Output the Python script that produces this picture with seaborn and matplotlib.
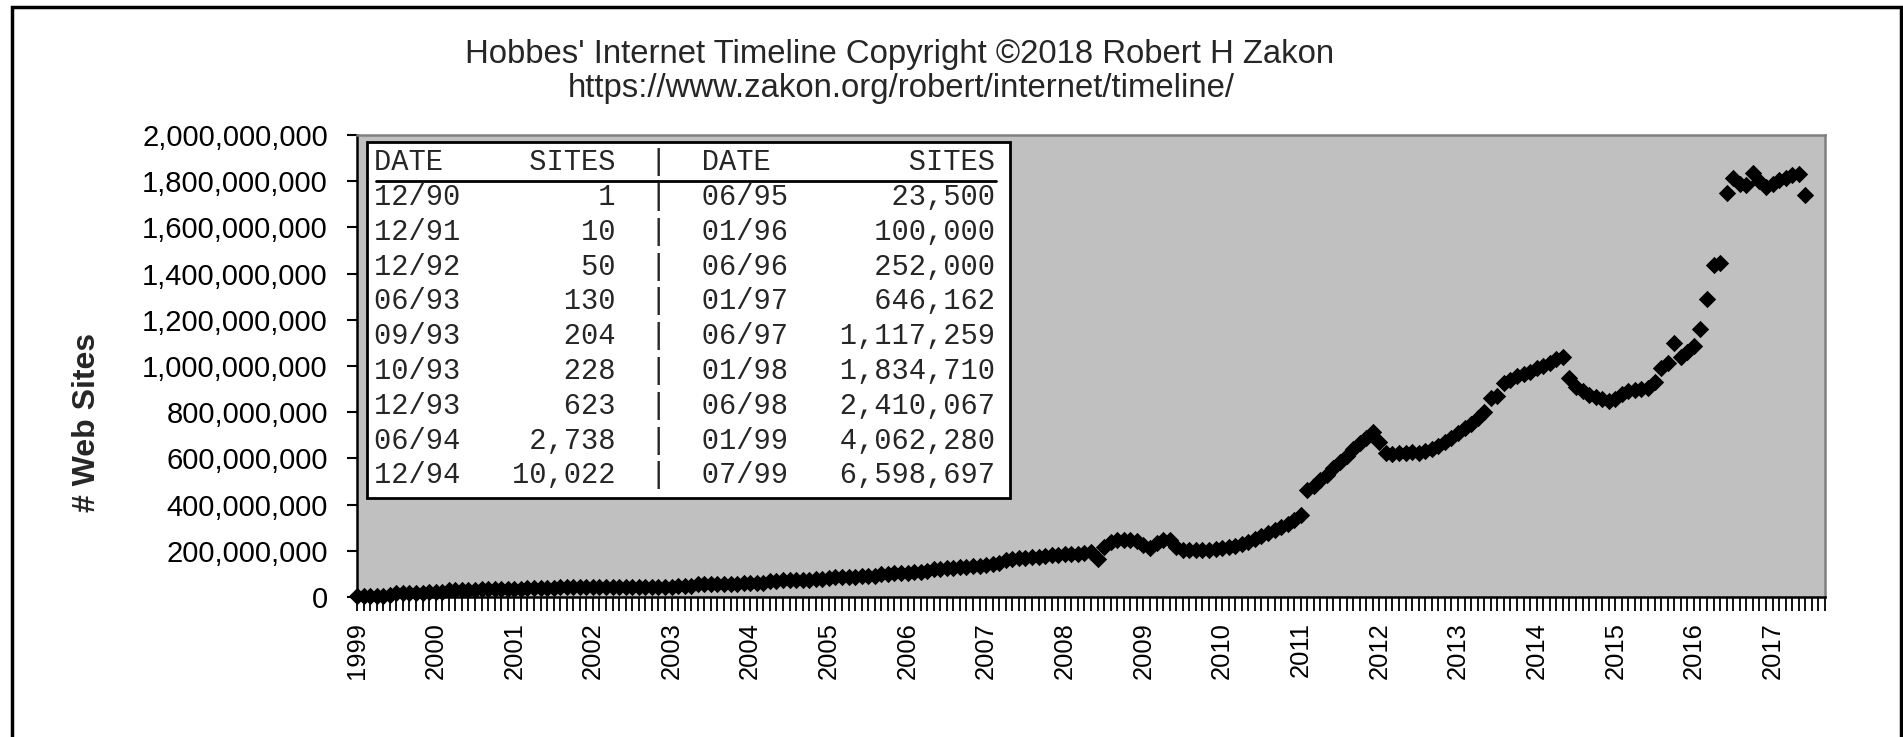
import numpy as np
import pandas as pd
import matplotlib
matplotlib.use('Agg')
import matplotlib.pyplot as plt
import seaborn as sns
from matplotlib.patches import Rectangle
from matplotlib.lines import Line2D
from matplotlib.ticker import FuncFormatter

# monthly web site counts (millions), Jan 1999 onwards
sites_millions = [
    4, 5, 5, 6, 6, 7,
    17, 18, 18, 19, 19, 20, 20, 21,
    30, 31, 31, 32, 32, 33, 33, 34, 34, 35, 35, 36,
    40, 40, 41, 41, 41, 42, 42, 42, 42, 43, 43, 43, 43, 43, 44, 44, 44, 44, 44, 45, 45, 45, 45, 46, 46, 46,
    55, 56, 56, 57, 57, 58, 58, 59, 60, 60, 61,
    70, 71, 72, 72, 73, 74, 75, 76, 77,
    84, 85, 86, 87, 88, 89, 90, 92,
    100, 101, 103, 104, 106, 108, 110, 112,
    120, 122, 124, 126, 128, 130, 133, 136, 140, 144, 148,
    160, 165, 168, 170, 172, 175, 178, 180, 182, 184, 186, 188, 190, 195,
    165, 215, 240, 245, 247, 246, 244,
    225, 212, 235, 247, 245, 215, 205, 203, 203, 204, 205, 207, 210,
    216, 222, 230, 240, 250, 262, 275, 288, 302, 318, 335, 355,
    463, 480, 505, 530, 558, 585, 612, 640, 665, 690,
    714, 670, 623, 620, 622, 625, 627, 625, 630,
    640, 655, 670, 690, 710, 730, 750, 775, 800,
    860, 870,
    925, 940, 955, 965, 975, 990, 1000, 1015, 1030,
    1040, 950,
    910, 890, 875, 865, 855, 850, 858,
    880, 890, 895, 900, 905, 930,
    990, 1015, 1100, 1040, 1060, 1085, 1160, 1290, 1437, 1445,
    1750, 1815, 1790, 1785, 1835, 1800, 1775, 1790, 1805, 1815, 1825, 1830, 1740,
]
years = list(range(1999, 2018))
n_categories = 225

# early history table
left_dates = ['12/90', '12/91', '12/92', '06/93', '09/93', '10/93', '12/93', '06/94', '12/94']
left_sites = [1, 10, 50, 130, 204, 228, 623, 2738, 10022]
right_dates = ['06/95', '01/96', '06/96', '01/97', '06/97', '01/98', '06/98', '01/99', '07/99']
right_sites = [23500, 100000, 252000, 646162, 1117259, 1834710, 2410067, 4062280, 6598697]

title_lines = ["Hobbes' Internet Timeline Copyright \u00a92018 Robert H Zakon",
               "https://www.zakon.org/robert/internet/timeline/"]

sns.set_style('white')
plt.rcParams['font.family'] = ['Liberation Sans', 'DejaVu Sans']

W, H = 1903, 737
df = pd.DataFrame({'month': np.arange(len(sites_millions)),
                   'sites': np.array(sites_millions, dtype=float) * 1e6})

fig = plt.figure(figsize=(W / 100, H / 100), dpi=100)
ax = fig.add_axes([357 / W, 1 - 597 / H, (1825 - 357) / W, (597 - 135) / H])
ax.set_facecolor('#c0c0c0')

sns.scatterplot(data=df, x='month', y='sites', marker='D', color='black',
                s=78, linewidth=0, ax=ax, zorder=3, clip_on=False, legend=False)

ax.set_xlim(0, n_categories - 1)
ax.set_ylim(0, 2e9)
ax.set_xlabel('')
ax.set_ylabel('')

xt = list(range(n_categories))
xl = [str(years[i // 12]) if i % 12 == 0 and i // 12 < len(years) else '' for i in xt]
ax.set_xticks(xt)
ax.set_xticklabels(xl, rotation=90, fontsize=18.4)
ax.set_yticks(np.arange(0, 2e9 + 1, 2e8))
ax.yaxis.set_major_formatter(FuncFormatter(lambda v, p: f'{v:,.0f}'))
ax.tick_params(axis='x', bottom=True, length=10, width=1.3, direction='out', pad=8, colors='black')
ax.tick_params(axis='y', left=True, length=7, width=1.5, direction='out', pad=14,
               labelsize=21, colors='black')

for side in ['left', 'bottom']:
    ax.spines[side].set_color('black')
    ax.spines[side].set_linewidth(1.8)
for side in ['top', 'right']:
    ax.spines[side].set_color('#808080')
    ax.spines[side].set_linewidth(1.8)

# titles and axis label
fig.text(900 / W, 1 - 55 / H, title_lines[0], ha='center', va='center', fontsize=23.7)
fig.text(901 / W, 1 - 89 / H, title_lines[1], ha='center', va='center', fontsize=23.7)
fig.text(87 / W, 1 - 422 / H, '# Web Sites', rotation=90, ha='center', va='center',
         fontsize=23, fontweight='bold')

# table of the early years
fig.add_artist(Rectangle((367 / W, 1 - 498 / H), (1010 - 367) / W, (498 - 142) / H,
                         transform=fig.transFigure, facecolor='white', edgecolor='black',
                         linewidth=2, zorder=5))
header = f"{'DATE':<5}{'SITES':>9}  |  {'DATE':<5}{'SITES':>12}"
rows = [f"{d1:<5}{s1:>9,}  |  {d2:<5}{s2:>12,}"
        for d1, s1, d2, s2 in zip(left_dates, left_sites, right_dates, right_sites)]
mono = ['Liberation Mono', 'DejaVu Sans Mono']
fig.text(374 / W, 1 - 162 / H, header, ha='left', va='center', family=mono,
         fontsize=20.7, zorder=6)
fig.add_artist(Line2D([376 / W, 996 / W], [1 - 181 / H, 1 - 181 / H],
                      transform=fig.transFigure, color='black', linewidth=2, zorder=6))
for i, row in enumerate(rows):
    fig.text(374 / W, 1 - (197 + 34.8 * i) / H, row, ha='left', va='center', family=mono,
             fontsize=20.7, zorder=6)

# chart border
fig.add_artist(Rectangle((12 / W, 1 - 745 / H), (1901 - 12) / W, (745 - 7) / H,
                         transform=fig.transFigure, fill=False, edgecolor='black',
                         linewidth=2.5, zorder=10))

fig.savefig('out.png', dpi=100)
